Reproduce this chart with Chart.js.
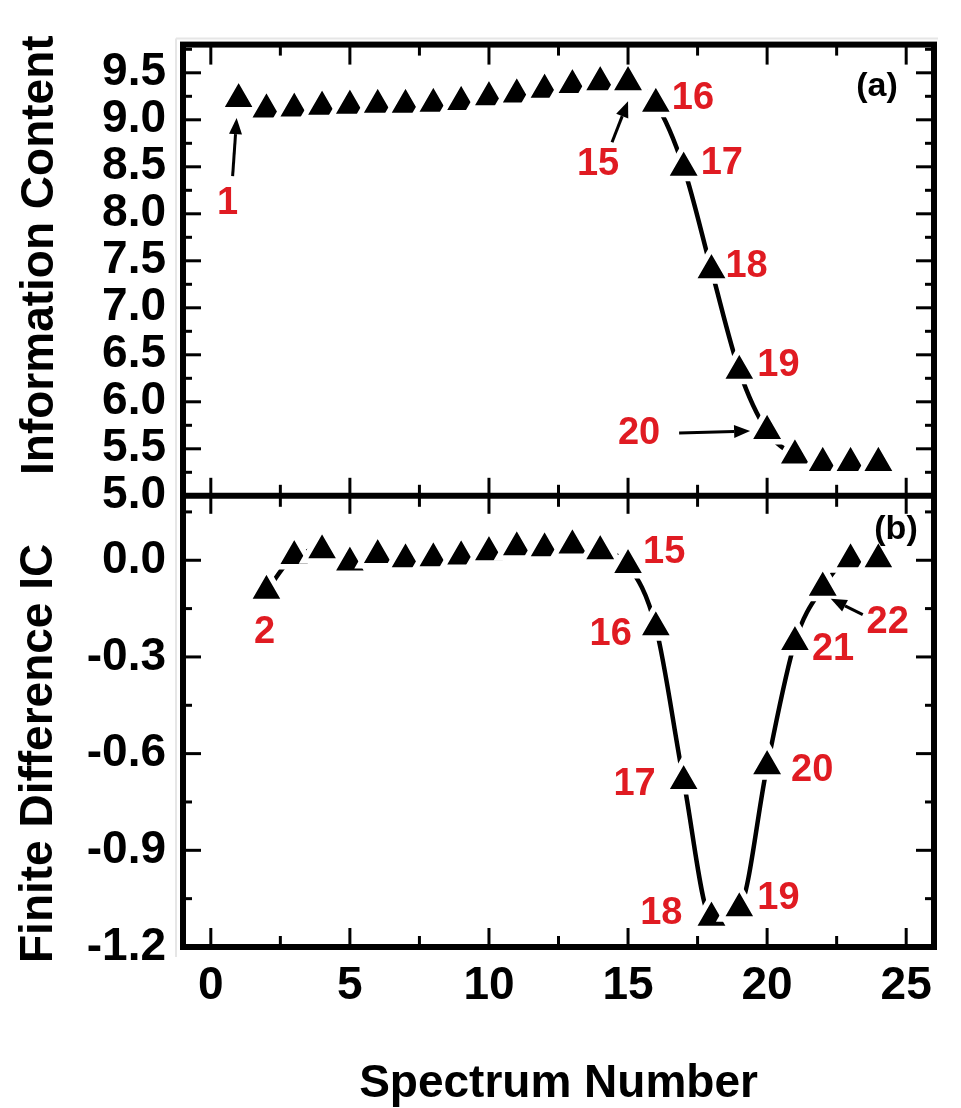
<!DOCTYPE html>
<html>
<head>
<meta charset="utf-8">
<script src="https://cdn.jsdelivr.net/npm/chart.js@4.4.1/dist/chart.umd.min.js"></script>
<style>
html, body { margin: 0; padding: 0; background: #fff; }
#wrap { width: 961px; height: 1108px; }
</style>
</head>
<body>
<div id="wrap"><canvas id="chart" width="961" height="1108"></canvas></div>
<script>
// (a) information content per spectrum
const spectraA = [1, 2, 3, 4, 5, 6, 7, 8, 9, 10, 11, 12, 13, 14, 15, 16, 17, 18, 19, 20, 21, 22, 23, 24];
const infoContent = [9.22, 9.11, 9.12, 9.14, 9.15, 9.16, 9.16, 9.17, 9.19, 9.24, 9.27, 9.32,
                     9.37, 9.40, 9.40, 9.17, 8.49, 7.40, 6.33, 5.69, 5.43, 5.35, 5.35, 5.35];

// (b) finite difference of the information content
const spectraB = [2, 3, 4, 5, 6, 7, 8, 9, 10, 11, 12, 13, 14, 15, 16, 17, 18, 19, 20, 21, 22, 23, 24];
const finiteDiff = [-0.095, 0.013, 0.031, -0.007, 0.016, 0.003, 0.006, 0.012, 0.025, 0.040, 0.037,
                    0.046, 0.028, -0.015, -0.208, -0.685, -1.109, -1.080, -0.639, -0.254, -0.085, 0.003, 0.003];

// red numbers next to the points (offsets in px from the point)
const notesA = [
    { text: '1', n: 1, dx: -11, dy: 104, align: 'center', arrow: [-6, 77, -2, 19] },
    { text: '15', n: 15, dx: -30, dy: 82, align: 'center', arrow: [-16, 60, 0, 19] },
    { text: '16', n: 16, dx: 16, dy: -5, align: 'left' },
    { text: '17', n: 17, dx: 17, dy: -4, align: 'left' },
    { text: '18', n: 18, dx: 14, dy: -4, align: 'left' },
    { text: '19', n: 19, dx: 18, dy: -5, align: 'left' },
    { text: '20', n: 20, dx: -128, dy: 3, align: 'center', arrow: [-88, 2, -17, 0] }
];
const notesB = [
    { text: '2', n: 2, dx: -2, dy: 42, align: 'center' },
    { text: '15', n: 15, dx: 15, dy: -13, align: 'left' },
    { text: '16', n: 16, dx: -24, dy: 7, align: 'right' },
    { text: '17', n: 17, dx: -28, dy: 3, align: 'right' },
    { text: '18', n: 18, dx: -29, dy: -4, align: 'right' },
    { text: '19', n: 19, dx: 18, dy: -10, align: 'left' },
    { text: '20', n: 20, dx: 24, dy: 4, align: 'left' },
    { text: '21', n: 21, dx: 17, dy: 7, align: 'left' },
    { text: '22', n: 22, dx: 65, dy: 35, align: 'center', arrow: [40, 27, 8, 11] }
];

const FONT = '"Liberation Sans", Arial, Helvetica, sans-serif';
const RED = '#e01b22';

Chart.defaults.font.family = FONT;
Chart.defaults.font.weight = 'bold';
Chart.defaults.color = '#000';

function seg(ctx, x1, y1, x2, y2) {
    ctx.beginPath();
    ctx.moveTo(x1, y1);
    ctx.lineTo(x2, y2);
    ctx.stroke();
}

function arrow(ctx, x1, y1, x2, y2) {
    const ang = Math.atan2(y2 - y1, x2 - x1);
    const hl = 16, hw = 6.5;
    const bx = x2 - Math.cos(ang) * hl, by = y2 - Math.sin(ang) * hl;
    ctx.lineWidth = 3;
    seg(ctx, x1, y1, bx, by);
    ctx.beginPath();
    ctx.moveTo(x2, y2);
    ctx.lineTo(bx + Math.sin(ang) * hw, by - Math.cos(ang) * hw);
    ctx.lineTo(bx - Math.sin(ang) * hw, by + Math.cos(ang) * hw);
    ctx.closePath();
    ctx.fill();
}

// frame, inward ticks, titles and annotations
const panelFrame = {
    id: 'panelFrame',
    beforeDatasetsDraw(chart) {
        // faint outline left over around the original figure
        const { ctx, chartArea: a } = chart;
        ctx.save();
        ctx.strokeStyle = '#e6e6e6';
        ctx.lineWidth = 2;
        seg(ctx, a.left - 7, a.top - 6, a.right + 4, a.top - 6);
        seg(ctx, a.left - 7, a.top - 6, a.left - 7, a.bottom + 10);
        ctx.restore();
    },
    afterDatasetsDraw(chart) {
        const { ctx, chartArea: a, scales } = chart;
        const x = scales.x, yA = scales.yA, yB = scales.yB;
        const mid = yA.top < yB.top ? yA.bottom : yB.bottom;
        const topA = yA.top, botA = yA.bottom, topB = yB.top, botB = yB.bottom;
        ctx.save();
        ctx.strokeStyle = '#000';
        ctx.fillStyle = '#000';
        ctx.lineCap = 'butt';
        ctx.lineWidth = 3;

        // x ticks: top, middle (both ways), bottom
        x.ticks.forEach(t => {
            const px = x.getPixelForValue(t.value);
            seg(ctx, px, a.top, px, a.top + 20);
            seg(ctx, px, mid - 18, px, mid + 18);
            seg(ctx, px, a.bottom, px, a.bottom - 19);
            const m = t.value + 2.5;
            if (m < x.max) {
                const pm = x.getPixelForValue(m);
                seg(ctx, pm, a.top, pm, a.top + 11);
                seg(ctx, pm, mid - 11, pm, mid + 11);
                seg(ctx, pm, a.bottom, pm, a.bottom - 11);
            }
        });

        // y ticks on left and right
        [yA, yB].forEach(s => {
            const vals = s.ticks.map(t => t.value);
            const step = vals[1] - vals[0];
            vals.forEach(v => {
                const py = s.getPixelForValue(v);
                seg(ctx, a.left, py, a.left + 18, py);
                seg(ctx, a.right, py, a.right - 18, py);
                const m = v + step / 2;
                if (m < s.max) {
                    const pm = s.getPixelForValue(m);
                    seg(ctx, a.left, pm, a.left + 9, pm);
                    seg(ctx, a.right, pm, a.right - 9, pm);
                }
            });
        });

        // frame and divider
        ctx.lineWidth = 6;
        ctx.strokeRect(a.left, a.top, a.right - a.left, a.bottom - a.top);
        seg(ctx, a.left, mid, a.right, mid);

        // panel letters
        ctx.font = 'bold 34px ' + FONT;
        ctx.textAlign = 'center';
        ctx.textBaseline = 'middle';
        ctx.fillText('(a)', a.right - 57, topA + 42);
        ctx.fillText('(b)', a.right - 38, topB + 34);

        // axis titles
        ctx.font = 'bold 46px ' + FONT;
        ctx.textBaseline = 'alphabetic';
        ctx.save();
        ctx.translate(53, (topA + botA) / 2 - 15);
        ctx.rotate(-Math.PI / 2);
        ctx.fillText('Information Content', 0, 0);
        ctx.restore();
        ctx.save();
        ctx.translate(52, (topB + botB) / 2 + 32);
        ctx.rotate(-Math.PI / 2);
        ctx.fillText('Finite Difference IC', 0, 0);
        ctx.restore();
        ctx.fillText('Spectrum Number', (a.left + a.right) / 2, 1097);

        // red numbers and arrows
        const drawNotes = (notes, dsIndex, spectra) => {
            const meta = chart.getDatasetMeta(dsIndex);
            notes.forEach(nt => {
                const p = meta.data[spectra.indexOf(nt.n)];
                if (nt.arrow) {
                    ctx.fillStyle = '#000';
                    arrow(ctx, p.x + nt.arrow[0], p.y + nt.arrow[1], p.x + nt.arrow[2], p.y + nt.arrow[3]);
                }
                ctx.fillStyle = RED;
                ctx.font = 'bold 38px ' + FONT;
                ctx.textAlign = nt.align;
                ctx.textBaseline = 'middle';
                ctx.fillText(nt.text, p.x + nt.dx, p.y + nt.dy);
            });
        };
        drawNotes(notesA, 0, spectraA);
        drawNotes(notesB, 1, spectraB);
        ctx.restore();
    }
};

// white border around each triangle leaves a gap in the line, like the original
const lineStyle = {
    borderColor: '#000',
    borderWidth: 4.5,
    pointStyle: 'triangle',
    pointRadius: 21.5,
    pointBorderWidth: 5.5,
    pointBackgroundColor: '#000',
    pointBorderColor: '#fff',
    cubicInterpolationMode: 'monotone',
    fill: false
};

const yFixed = scale => { scale.width = 183; };

new Chart(document.getElementById('chart'), {
    type: 'line',
    data: {
        datasets: [
            Object.assign({
                label: 'Information Content',
                data: spectraA.map((n, i) => ({ x: n, y: infoContent[i] })),
                yAxisID: 'yA'
            }, lineStyle),
            Object.assign({
                label: 'Finite Difference IC',
                data: spectraB.map((n, i) => ({ x: n, y: finiteDiff[i] })),
                yAxisID: 'yB'
            }, lineStyle)
        ]
    },
    options: {
        responsive: false,
        animation: false,
        events: [],
        devicePixelRatio: 1,
        layout: { padding: { top: 31, right: 6, left: 0, bottom: 0 } },
        plugins: { legend: { display: false }, tooltip: { enabled: false } },
        scales: {
            x: {
                type: 'linear',
                min: -1,
                max: 26,
                grid: { display: false, drawTicks: false },
                border: { display: false },
                ticks: {
                    stepSize: 5,
                    includeBounds: false,
                    autoSkip: false,
                    maxRotation: 0,
                    padding: 12,
                    font: { size: 46, weight: 'bold' },
                    color: '#000'
                },
                afterFit: scale => { scale.height = 161; }
            },
            // stacked on the left: the scale listed first ends up at the bottom
            yB: {
                type: 'linear',
                position: 'left',
                stack: 'panels',
                stackWeight: 1,
                min: -1.2,
                max: 0.2,
                grid: { display: false, drawTicks: false },
                border: { display: false },
                ticks: {
                    stepSize: 0.3,
                    includeBounds: false,
                    autoSkip: false,
                    padding: 17,
                    font: { size: 46, weight: 'bold' },
                    color: '#000',
                    callback: v => Number(v).toFixed(1)
                },
                afterFit: yFixed
            },
            yA: {
                type: 'linear',
                position: 'left',
                stack: 'panels',
                stackWeight: 1,
                min: 5,
                max: 9.8,
                grid: { display: false, drawTicks: false },
                border: { display: false },
                ticks: {
                    stepSize: 0.5,
                    includeBounds: false,
                    autoSkip: false,
                    padding: 17,
                    font: { size: 46, weight: 'bold' },
                    color: '#000',
                    callback: v => Number(v).toFixed(1)
                },
                afterFit: yFixed
            }
        }
    },
    plugins: [panelFrame]
});
</script>
</body>
</html>
